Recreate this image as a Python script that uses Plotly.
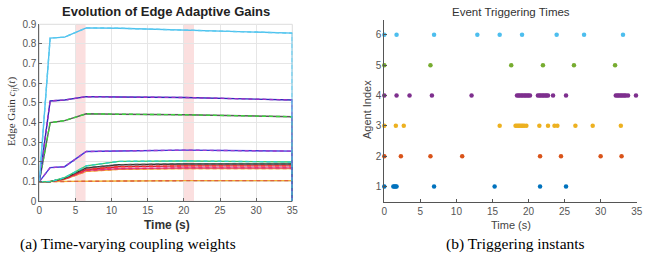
import plotly.graph_objects as go

W, H = 657, 264

# ---------------- Left panel data: edge adaptive gains ----------------
t_gain = [0, 1.5, 3.5, 6.5, 11, 20, 35, 35]
gain_cyan = [0.1, 0.83, 0.835, 0.882, 0.880, 0.872, 0.855, 0]
gain_navy = [0.1, 0.51, 0.515, 0.532, 0.530, 0.528, 0.515, 0]
gain_gray = [0.1, 0.40, 0.41, 0.445, 0.443, 0.440, 0.430, 0]
gain_violet = [0.1, 0.171, 0.176, 0.253, 0.256, 0.260, 0.255, 0]
gain_teal = [0.1, 0.10, 0.12, 0.180, 0.203, 0.205, 0.200, 0]
gain_black = [0.1, 0.10, 0.118, 0.170, 0.186, 0.190, 0.190, 0]
gain_red = [0.1, 0.10, 0.115, 0.162, 0.176, 0.180, 0.180, 0]
gain_magenta = [0.1, 0.10, 0.114, 0.157, 0.166, 0.170, 0.170, 0]
gain_orange = [0.1, 0.10, 0.112, 0.152, 0.163, 0.167, 0.167, 0]
gain_low = [0.1, 0.10, 0.100, 0.101, 0.103, 0.105, 0.105, 0]

gain_series = [
    (gain_low, "#F0B030", "#E06040"),
    (gain_orange, "#F0A020", "#F08040"),
    (gain_magenta, "#E040A0", "#E03070"),
    (gain_red, "#D02030", "#FF3030"),
    (gain_black, "#333333", "#555555"),
    (gain_teal, "#3ACB6A", "#33D0C8"),
    (gain_violet, "#3A3AD8", "#A040D0"),
    (gain_gray, "#5A5A5A", "#3BD33B"),
    (gain_navy, "#2B2BB8", "#9A30C8"),
    (gain_cyan, "#4DBEEE", "#5ACBEF"),
]
shade_start = [5.0, 19.9]
shade_end = [6.4, 21.4]
gain_xticks = [0, 5, 10, 15, 20, 25, 30, 35]
gain_yticks = [0, 0.1, 0.2, 0.3, 0.4, 0.5, 0.6, 0.7, 0.8, 0.9]
gain_yticktext = ["0", "0.1", "0.2", "0.3", "0.4", "0.5", "0.6", "0.7", "0.8", "0.9"]

# ---------------- Right panel data: event triggering times ----------------
agents = [1, 2, 3, 4, 5, 6]
agent_colors = ["#0072BD", "#D95319", "#EDB120", "#7E2F8E", "#77AC30", "#4DBEEE"]
events_1 = [0, 1.25, 1.4, 1.55, 1.7, 6.9, 15.3, 21.6, 25.2]
events_2 = [0, 2.3, 6.4, 10.8, 21.6, 24.5, 30.0, 32.9]
events_3 = [0, 1.6, 2.7, 16.0, 18.2, 18.4, 18.6, 18.8, 19.0, 19.2, 19.4, 19.7,
            21.5, 22.7, 23.6, 24.0, 26.5, 28.9, 32.8]
events_4 = [0, 1.7, 3.5, 6.6, 12.1, 18.4, 18.6, 18.8, 19.0, 19.2, 19.4, 19.6,
            19.8, 20.0, 20.2, 21.3, 21.5, 21.7, 21.9, 22.1, 22.3, 22.5, 22.7,
            23.4, 25.2, 32.1, 32.3, 32.5, 32.7, 32.9, 33.1, 33.3, 33.5, 33.8, 34.9]
events_5 = [0, 6.4, 17.6, 22.0, 26.3, 32.0]
events_6 = [0, 1.7, 6.9, 12.9, 16.0, 19.1, 23.9, 27.7, 33.1]
event_lists = [events_1, events_2, events_3, events_4, events_5, events_6]
event_xticks = [0, 5, 10, 15, 20, 25, 30, 35]

fig = go.Figure()

# left panel lines
for vals, c_solid, c_dash in gain_series:
    fig.add_trace(go.Scatter(x=t_gain, y=vals, mode="lines",
                             line=dict(color=c_solid, width=1.4),
                             xaxis="x", yaxis="y", showlegend=False, hoverinfo="skip"))
    fig.add_trace(go.Scatter(x=t_gain, y=vals, mode="lines",
                             line=dict(color=c_dash, width=1.4, dash="4px,3px"),
                             xaxis="x", yaxis="y", showlegend=False, hoverinfo="skip"))

# right panel events
for a, ev, col in zip(agents, event_lists, agent_colors):
    fig.add_trace(go.Scatter(x=ev, y=[a] * len(ev), mode="markers",
                             marker=dict(color=col, size=4.5, line=dict(width=0)),
                             xaxis="x2", yaxis="y2", showlegend=False, hoverinfo="skip",
                             cliponaxis=False))

shapes = []
for s, e in zip(shade_start, shade_end):
    shapes.append(dict(type="rect", xref="x", yref="y domain", x0=s, x1=e, y0=0, y1=1,
                       fillcolor="rgba(240,140,140,0.28)", line=dict(width=0), layer="below"))
# light box around left axes
shapes.append(dict(type="rect", xref="x domain", yref="y domain", x0=0, x1=1, y0=0, y1=1,
                   line=dict(color="#DDDDDD", width=1), layer="below"))

tickfont = dict(family="Liberation Sans, Arial", size=10, color="#555555")


def ann(text, x, y, size, family="Liberation Sans, Arial", color="#333333", angle=0):
    return dict(text=text, x=x / W, y=1 - y / H, xref="paper", yref="paper",
                xanchor="center", yanchor="middle", showarrow=False, textangle=angle,
                font=dict(family=family, size=size, color=color))


fig.update_layout(
    width=W, height=H,
    margin=dict(l=0, r=0, t=0, b=0, autoexpand=False),
    paper_bgcolor="white", plot_bgcolor="white",
    shapes=shapes,
    xaxis=dict(domain=[39.3 / W, 292.3 / W], range=[0, 35], tickvals=gain_xticks,
               showgrid=True, gridcolor="#E6E6E6", gridwidth=1, zeroline=False,
               showline=True, linecolor="#666666", linewidth=1,
               ticks="inside", ticklen=3, tickcolor="#666666",
               tickfont=tickfont, anchor="y", automargin=False),
    yaxis=dict(domain=[1 - 201.3 / H, 1 - 24.3 / H], range=[0, 0.9], tickvals=gain_yticks,
               ticktext=gain_yticktext,
               showgrid=True, gridcolor="#E6E6E6", gridwidth=1, zeroline=False,
               showline=True, linecolor="#666666", linewidth=1,
               ticks="inside", ticklen=3, tickcolor="#666666",
               tickfont=tickfont, anchor="x", automargin=False),
    xaxis2=dict(domain=[384.3 / W, 636.7 / W], range=[0, 35], tickvals=event_xticks,
                showgrid=False, zeroline=False,
                showline=True, linecolor="#555555", linewidth=1,
                ticks="inside", ticklen=3, tickcolor="#555555",
                tickfont=tickfont, anchor="y2", automargin=False),
    yaxis2=dict(domain=[1 - 201.7 / H, 1 - 19.7 / H], range=[0.5, 6.5], tickvals=agents,
                showgrid=False, zeroline=False,
                showline=True, linecolor="#555555", linewidth=1,
                ticks="inside", ticklen=3, tickcolor="#555555",
                tickfont=tickfont, anchor="x2", automargin=False),
    annotations=[
        ann("<b>Evolution of Edge Adaptive Gains</b>", 166, 12, 13, color="#222222"),
        ann("<b>Time (s)</b>", 167, 225, 12),
        ann("Edge Gain <i>c<sub>ij</sub></i>(<i>t</i>)", 12, 112, 11,
            family="Liberation Serif, Times New Roman", angle=-90),
        ann("Event Triggering Times", 511, 12, 11.5),
        ann("Time (s)", 511, 225, 11, color="#444444"),
        ann("Agent Index", 367, 110, 11, color="#444444", angle=-90),
        ann("(a) Time-varying coupling weights", 128, 244, 15.5,
            family="Liberation Serif, Times New Roman", color="#000000"),
        ann("(b) Triggering instants", 515, 244, 15.5,
            family="Liberation Serif, Times New Roman", color="#000000"),
    ],
)

fig.write_html("out.html", config={"displayModeBar": False},
               post_script="document.body.style.margin='0';document.body.style.padding='0';")
